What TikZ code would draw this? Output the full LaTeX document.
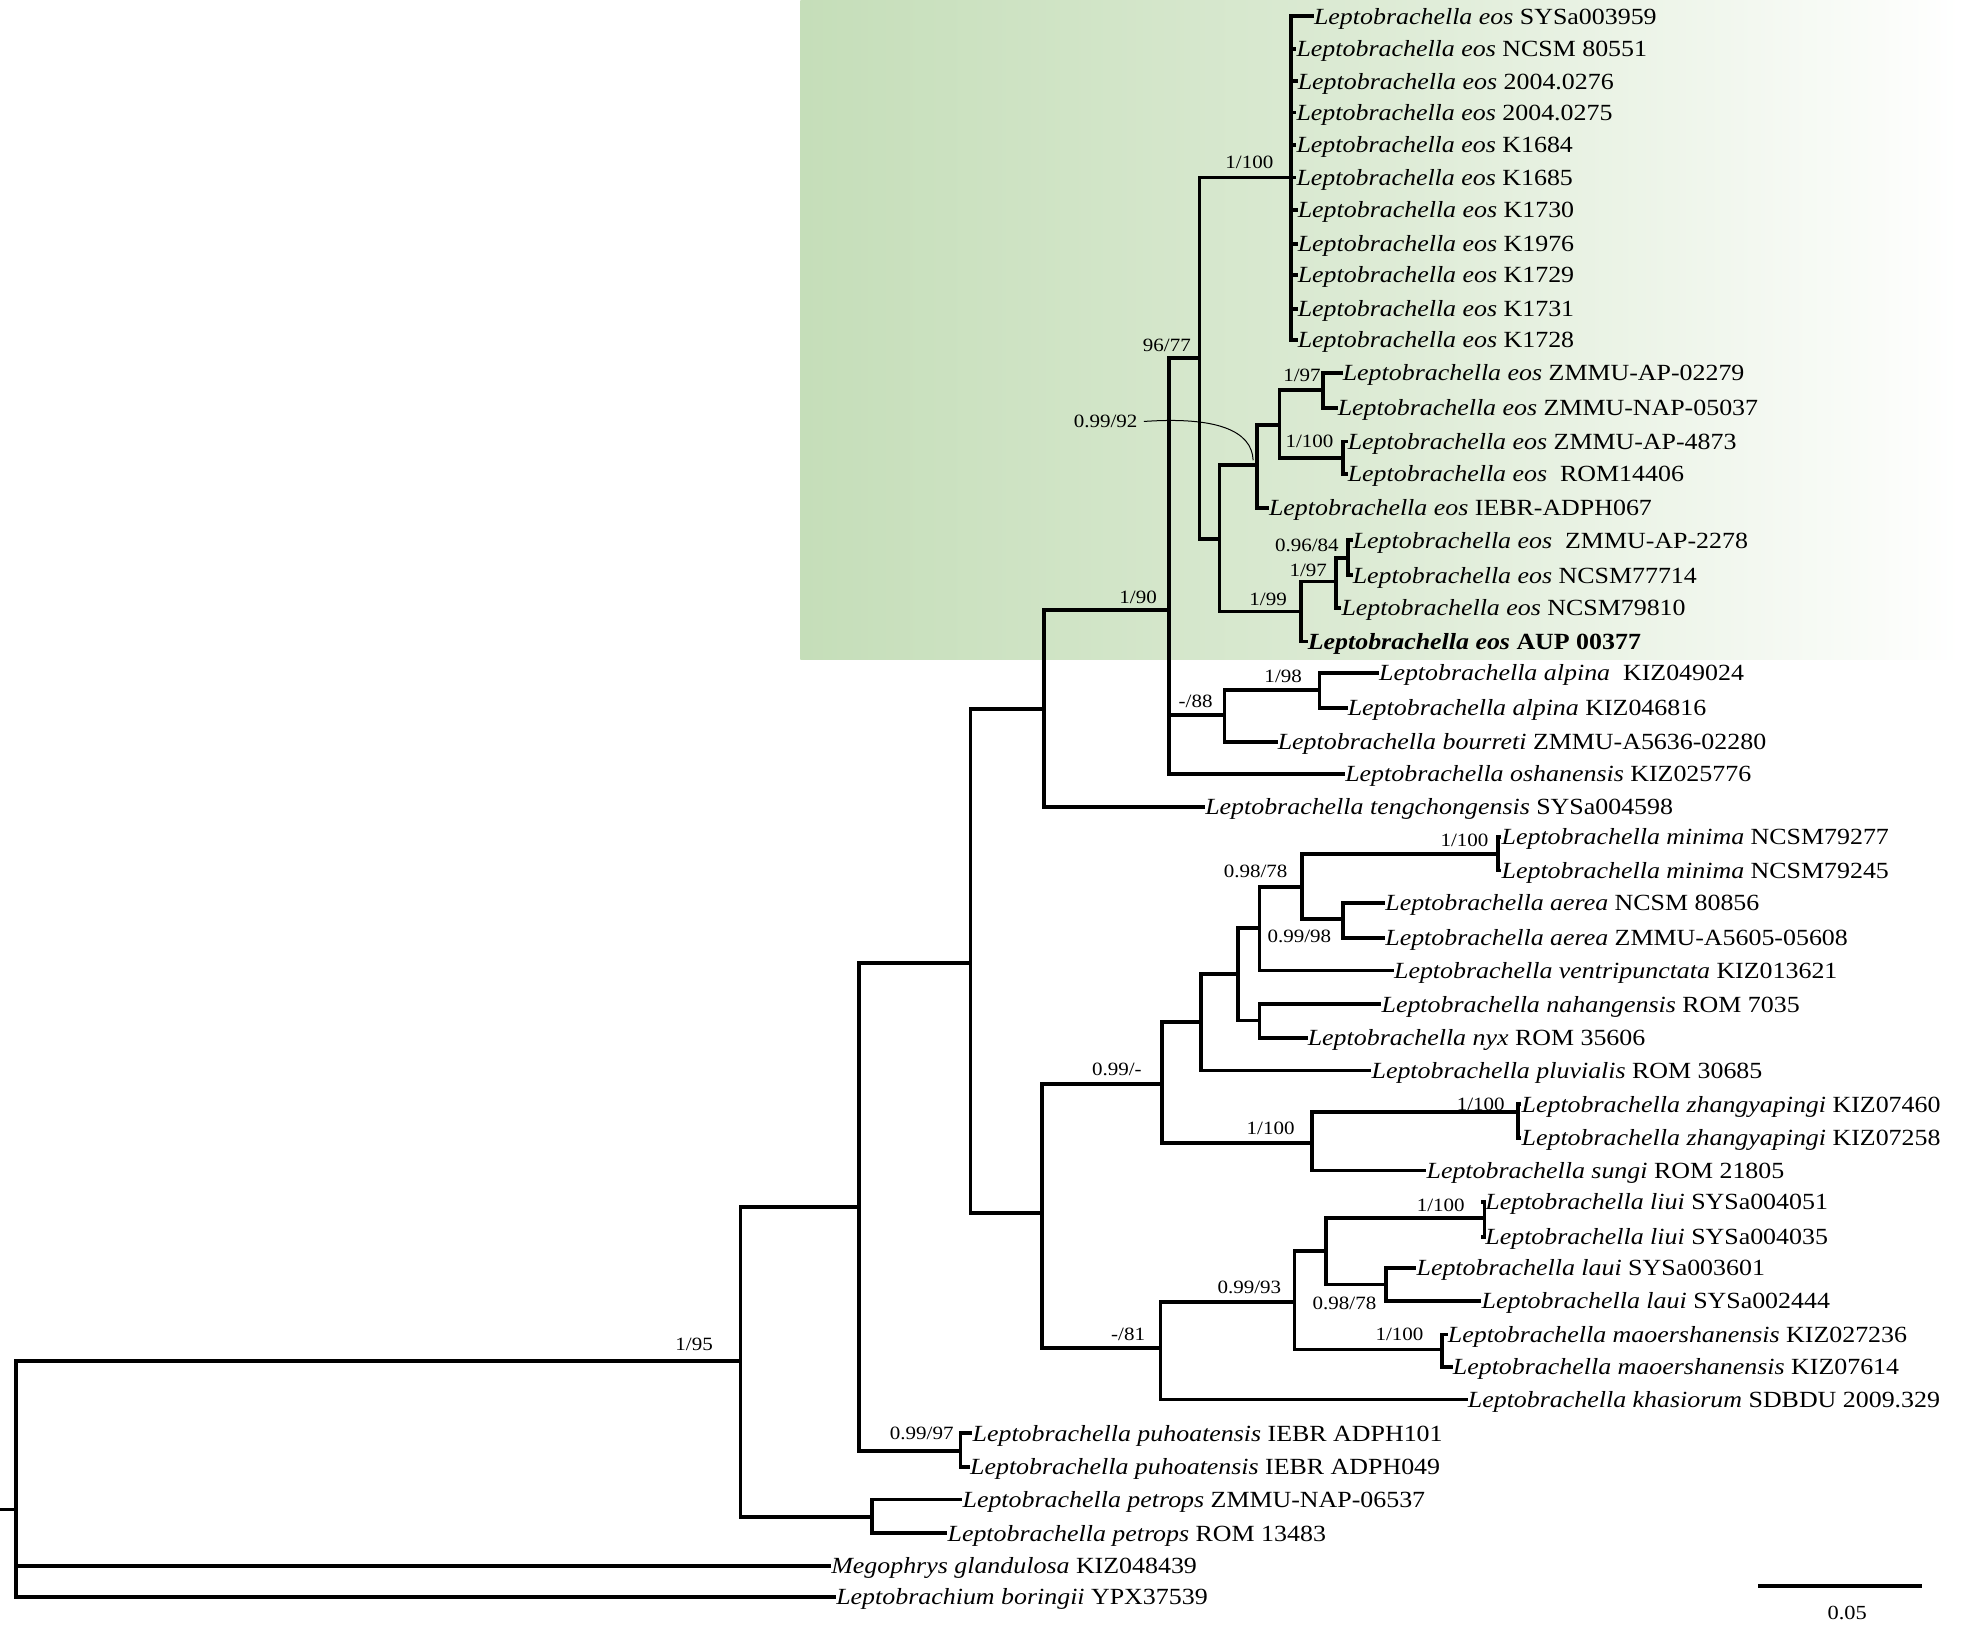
\documentclass[tikz,border=0pt]{standalone}
\usepackage{fontspec}
\setmainfont{Liberation Serif}[FakeStretch=1.12]
\definecolor{bgA}{RGB}{197,222,185}
\definecolor{bgB}{RGB}{221,235,213}
\newcommand\taxon[2]{\textit{Leptobrachella #1} #2}
\tikzset{
  br/.style={line width=3pt, line join=miter, line cap=rect},
  tip/.style={anchor=west, inner xsep=1.5pt, inner ysep=0pt, text height=16.4pt, text depth=4pt, font=\fontsize{18.5}{20}\selectfont},
  sup/.style={inner sep=0pt, font=\fontsize{15}{16}\selectfont},
}
\begin{document}
\begin{tikzpicture}[x=1pt,y=-1pt]
\useasboundingbox (0,0) rectangle (1568,1303);
\shade[left color=bgA, right color=white, middle color=bgB] (640,0) rectangle (1568,527);

% tips
\node[tip] (t1) at (1049,13) {\taxon{eos}{SYSa003959}};
\node[tip] (t2) at (1035,39) {\taxon{eos}{NCSM 80551}};
\node[tip] (t3) at (1036,65) {\taxon{eos}{2004.0276}};
\node[tip] (t4) at (1035,90) {\taxon{eos}{2004.0275}};
\node[tip] (t5) at (1035,116) {\taxon{eos}{K1684}};
\node[tip] (t6) at (1035,142) {\taxon{eos}{K1685}};
\node[tip] (t7) at (1036,168) {\taxon{eos}{K1730}};
\node[tip] (t8) at (1036,195) {\taxon{eos}{K1976}};
\node[tip] (t9) at (1036,220) {\taxon{eos}{K1729}};
\node[tip] (t10) at (1036,247) {\taxon{eos}{K1731}};
\node[tip] (t11) at (1036,272) {\taxon{eos}{K1728}};
\node[tip] (t12) at (1072,298) {\taxon{eos}{ZMMU-AP-02279}};
\node[tip] (t13) at (1068,326) {\taxon{eos}{ZMMU-NAP-05037}};
\node[tip] (t14) at (1076,353) {\taxon{eos}{ZMMU-AP-4873}};
\node[tip] (t15) at (1076,379) {\textit{Leptobrachella eos}\ \ ROM14406};
\node[tip] (t16) at (1013,406) {\taxon{eos}{IEBR-ADPH067}};
\node[tip] (t17) at (1080,432) {\textit{Leptobrachella eos}\ \ ZMMU-AP-2278};
\node[tip] (t18) at (1080,460) {\taxon{eos}{NCSM77714}};
\node[tip] (t19) at (1071,486) {\taxon{eos}{NCSM79810}};
\node[tip] (t20) at (1044,513) {\bfseries\taxon{eos}{AUP 00377}};
\node[tip] (t21) at (1101,538) {\textit{Leptobrachella alpina}\ \ KIZ049024};
\node[tip] (t22) at (1076,566) {\taxon{alpina}{KIZ046816}};
\node[tip] (t23) at (1020,593) {\taxon{bourreti}{ZMMU-A5636-02280}};
\node[tip] (t24) at (1074,619) {\taxon{oshanensis}{KIZ025776}};
\node[tip] (t25) at (962,645) {\taxon{tengchongensis}{SYSa004598}};
\node[tip] (t26) at (1199,669) {\taxon{minima}{NCSM79277}};
\node[tip] (t27) at (1199,696) {\taxon{minima}{NCSM79245}};
\node[tip] (t28) at (1106,722) {\taxon{aerea}{NCSM 80856}};
\node[tip] (t29) at (1106,750) {\taxon{aerea}{ZMMU-A5605-05608}};
\node[tip] (t30) at (1113,776) {\taxon{ventripunctata}{KIZ013621}};
\node[tip] (t31) at (1103,803) {\taxon{nahangensis}{ROM 7035}};
\node[tip] (t32) at (1044,830) {\taxon{nyx}{ROM 35606}};
\node[tip] (t33) at (1095,856) {\taxon{pluvialis}{ROM 30685}};
\node[tip] (t34) at (1215,883) {\taxon{zhangyapingi}{KIZ07460}};
\node[tip] (t35) at (1215,910) {\taxon{zhangyapingi}{KIZ07258}};
\node[tip] (t36) at (1139,936) {\taxon{sungi}{ROM 21805}};
\node[tip] (t37) at (1186,961) {\taxon{liui}{SYSa004051}};
\node[tip] (t38) at (1186,989) {\taxon{liui}{SYSa004035}};
\node[tip] (t39) at (1131,1014) {\taxon{laui}{SYSa003601}};
\node[tip] (t40) at (1183,1040) {\taxon{laui}{SYSa002444}};
\node[tip] (t41) at (1156,1067) {\taxon{maoershanensis}{KIZ027236}};
\node[tip] (t42) at (1160,1093) {\taxon{maoershanensis}{KIZ07614}};
\node[tip] (t43) at (1172,1119) {\taxon{khasiorum}{SDBDU 2009.329}};
\node[tip] (t44) at (776,1146) {\taxon{puhoatensis}{IEBR ADPH101}};
\node[tip] (t45) at (774,1173) {\taxon{puhoatensis}{IEBR ADPH049}};
\node[tip] (t46) at (768,1199) {\taxon{petrops}{ZMMU-NAP-06537}};
\node[tip] (t47) at (756,1226) {\taxon{petrops}{ROM 13483}};
\node[tip] (t48) at (663,1252) {\textit{Megophrys glandulosa} KIZ048439};
\node[tip] (t49) at (667,1277) {\textit{Leptobrachium boringii} YPX37539};

% internal nodes
\coordinate (root) at (13,1207);
\coordinate (rs) at (0,1207);
\coordinate (A) at (592,1088);
\coordinate (B) at (687,965);
\coordinate (PT) at (697,1213);
\coordinate (C) at (776,770);
\coordinate (PU) at (768,1160);
\coordinate (D) at (835,567);
\coordinate (E) at (833,970);
\coordinate (F) at (935,488);
\coordinate (G) at (959,286);
\coordinate (H) at (979,572);
\coordinate (EOS) at (1032,142);
\coordinate (J) at (975,431);
\coordinate (K) at (1005,372);
\coordinate (L) at (1023,340);
\coordinate (M) at (1058,312);
\coordinate (N) at (1074,366);
\coordinate (O) at (1040,489);
\coordinate (P) at (1068,465);
\coordinate (Q) at (1078,446);
\coordinate (R) at (1055,552);
\coordinate (S) at (929,867);
\coordinate (T) at (928,1078);
\coordinate (U) at (960,817);
\coordinate (V) at (1049,914);
\coordinate (W) at (990,779);
\coordinate (X) at (1007,742);
\coordinate (Y) at (1007,816);
\coordinate (Z) at (1041,709);
\coordinate (MI) at (1198,683);
\coordinate (AE) at (1074,735);
\coordinate (ZH) at (1214,889);
\coordinate (AA) at (1035,1041);
\coordinate (BB) at (1060,1000);
\coordinate (LI) at (1187,974);
\coordinate (LA) at (1108,1027);
\coordinate (MA) at (1153,1079);

% branches
\draw[br] (A) -| (root) |- (t49.west);
\draw[br] (root |- t48.west) -- (t48.west);
\draw[br] (rs) -- (root);
\draw[br] (B) -| (A) |- (PT);
\draw[br] (t46.west) -| (PT) |- (t47.west);
\draw[br] (C) -| (B) |- (PU);
\draw[br] (t44.west) -| (PU) |- (t45.west);
\draw[br] (D) -| (C) |- (E);
\draw[br] (F) -| (D) |- (t25.west);
\draw[br] (G) -| (F) |- (t24.west);
\draw[br] (F |- H) -- (H);
\draw[br] (EOS) -| (G) |- (J);
\draw[br] (t1.west) -| (EOS) |- (t11.west);
\foreach \i in {2,...,10} \draw[br] (EOS |- t\i.west) -- (t\i.west);
\draw[br] (K) -| (J) |- (O);
\draw[br] (L) -| (K) |- (t16.west);
\draw[br] (M) -| (L) |- (N);
\draw[br] (t12.west) -| (M) |- (t13.west);
\draw[br] (t14.west) -| (N) |- (t15.west);
\draw[br] (P) -| (O) |- (t20.west);
\draw[br] (Q) -| (P) |- (t19.west);
\draw[br] (t17.west) -| (Q) |- (t18.west);
\draw[br] (R) -| (H) |- (t23.west);
\draw[br] (t21.west) -| (R) |- (t22.west);
\draw[br] (S) -| (E) |- (T);
\draw[br] (U) -| (S) |- (V);
\draw[br] (W) -| (U) |- (t33.west);
\draw[br] (X) -| (W) |- (Y);
\draw[br] (Z) -| (X) |- (t30.west);
\draw[br] (MI) -| (Z) |- (AE);
\draw[br] (t26.west) -| (MI) |- (t27.west);
\draw[br] (t28.west) -| (AE) |- (t29.west);
\draw[br] (t31.west) -| (Y) |- (t32.west);
\draw[br] (ZH) -| (V) |- (t36.west);
\draw[br] (t34.west) -| (ZH) |- (t35.west);
\draw[br] (AA) -| (T) |- (t43.west);
\draw[br] (BB) -| (AA) |- (MA);
\draw[br] (LI) -| (BB) |- (LA);
\draw[br] (t37.west) -| (LI) |- (t38.west);
\draw[br] (t39.west) -| (LA) |- (t40.west);
\draw[br] (t41.west) -| (MA) |- (t42.west);

% support values
\node[sup] (s1) at (555,1075) {1/95};
\node[sup] (s2) at (910,478) {1/90};
\node[sup] (s3) at (933,276) {96/77};
\node[sup] (s4) at (999,130) {1/100};
\node[sup] (s5) at (884,337) {0.99/92};
\node[sup] (s6) at (1041,300) {1/97};
\node[sup] (s7) at (1047,353) {1/100};
\node[sup] (s8) at (1045,436) {0.96/84};
\node[sup] (s9) at (1046,456) {1/97};
\node[sup] (s10) at (1014,479) {1/99};
\node[sup] (s11) at (1026,541) {1/98};
\node[sup] (s12) at (956,561) {-/88};
\node[sup] (s13) at (1171,672) {1/100};
\node[sup] (s14) at (1004,697) {0.98/78};
\node[sup] (s15) at (1039,749) {0.99/98};
\node[sup] (s16) at (893,855) {0.99/-};
\node[sup] (s17) at (1184,883) {1/100};
\node[sup] (s18) at (1016,902) {1/100};
\node[sup] (s19) at (1152,964) {1/100};
\node[sup] (s20) at (999,1029) {0.99/93};
\node[sup] (s21) at (1075,1042) {0.98/78};
\node[sup] (s22) at (1119,1067) {1/100};
\node[sup] (s23) at (902,1067) {-/81};
\node[sup] (s24) at (737,1146) {0.99/97};

% callout
\coordinate (Kc) at (1002,368);
\draw[line width=0.8pt] ([xshift=5pt]s5.east) .. controls (972,333) and (1001,344) .. (Kc);

% scale bar
\coordinate (sb1) at (1406,1268);
\coordinate (sb2) at (1537,1268);
\draw[line width=3.5pt] (sb1) -- (sb2);
\node[sup, font=\fontsize{16}{17}\selectfont] (sbl) at (1477,1290) {0.05};
\end{tikzpicture}
\end{document}
